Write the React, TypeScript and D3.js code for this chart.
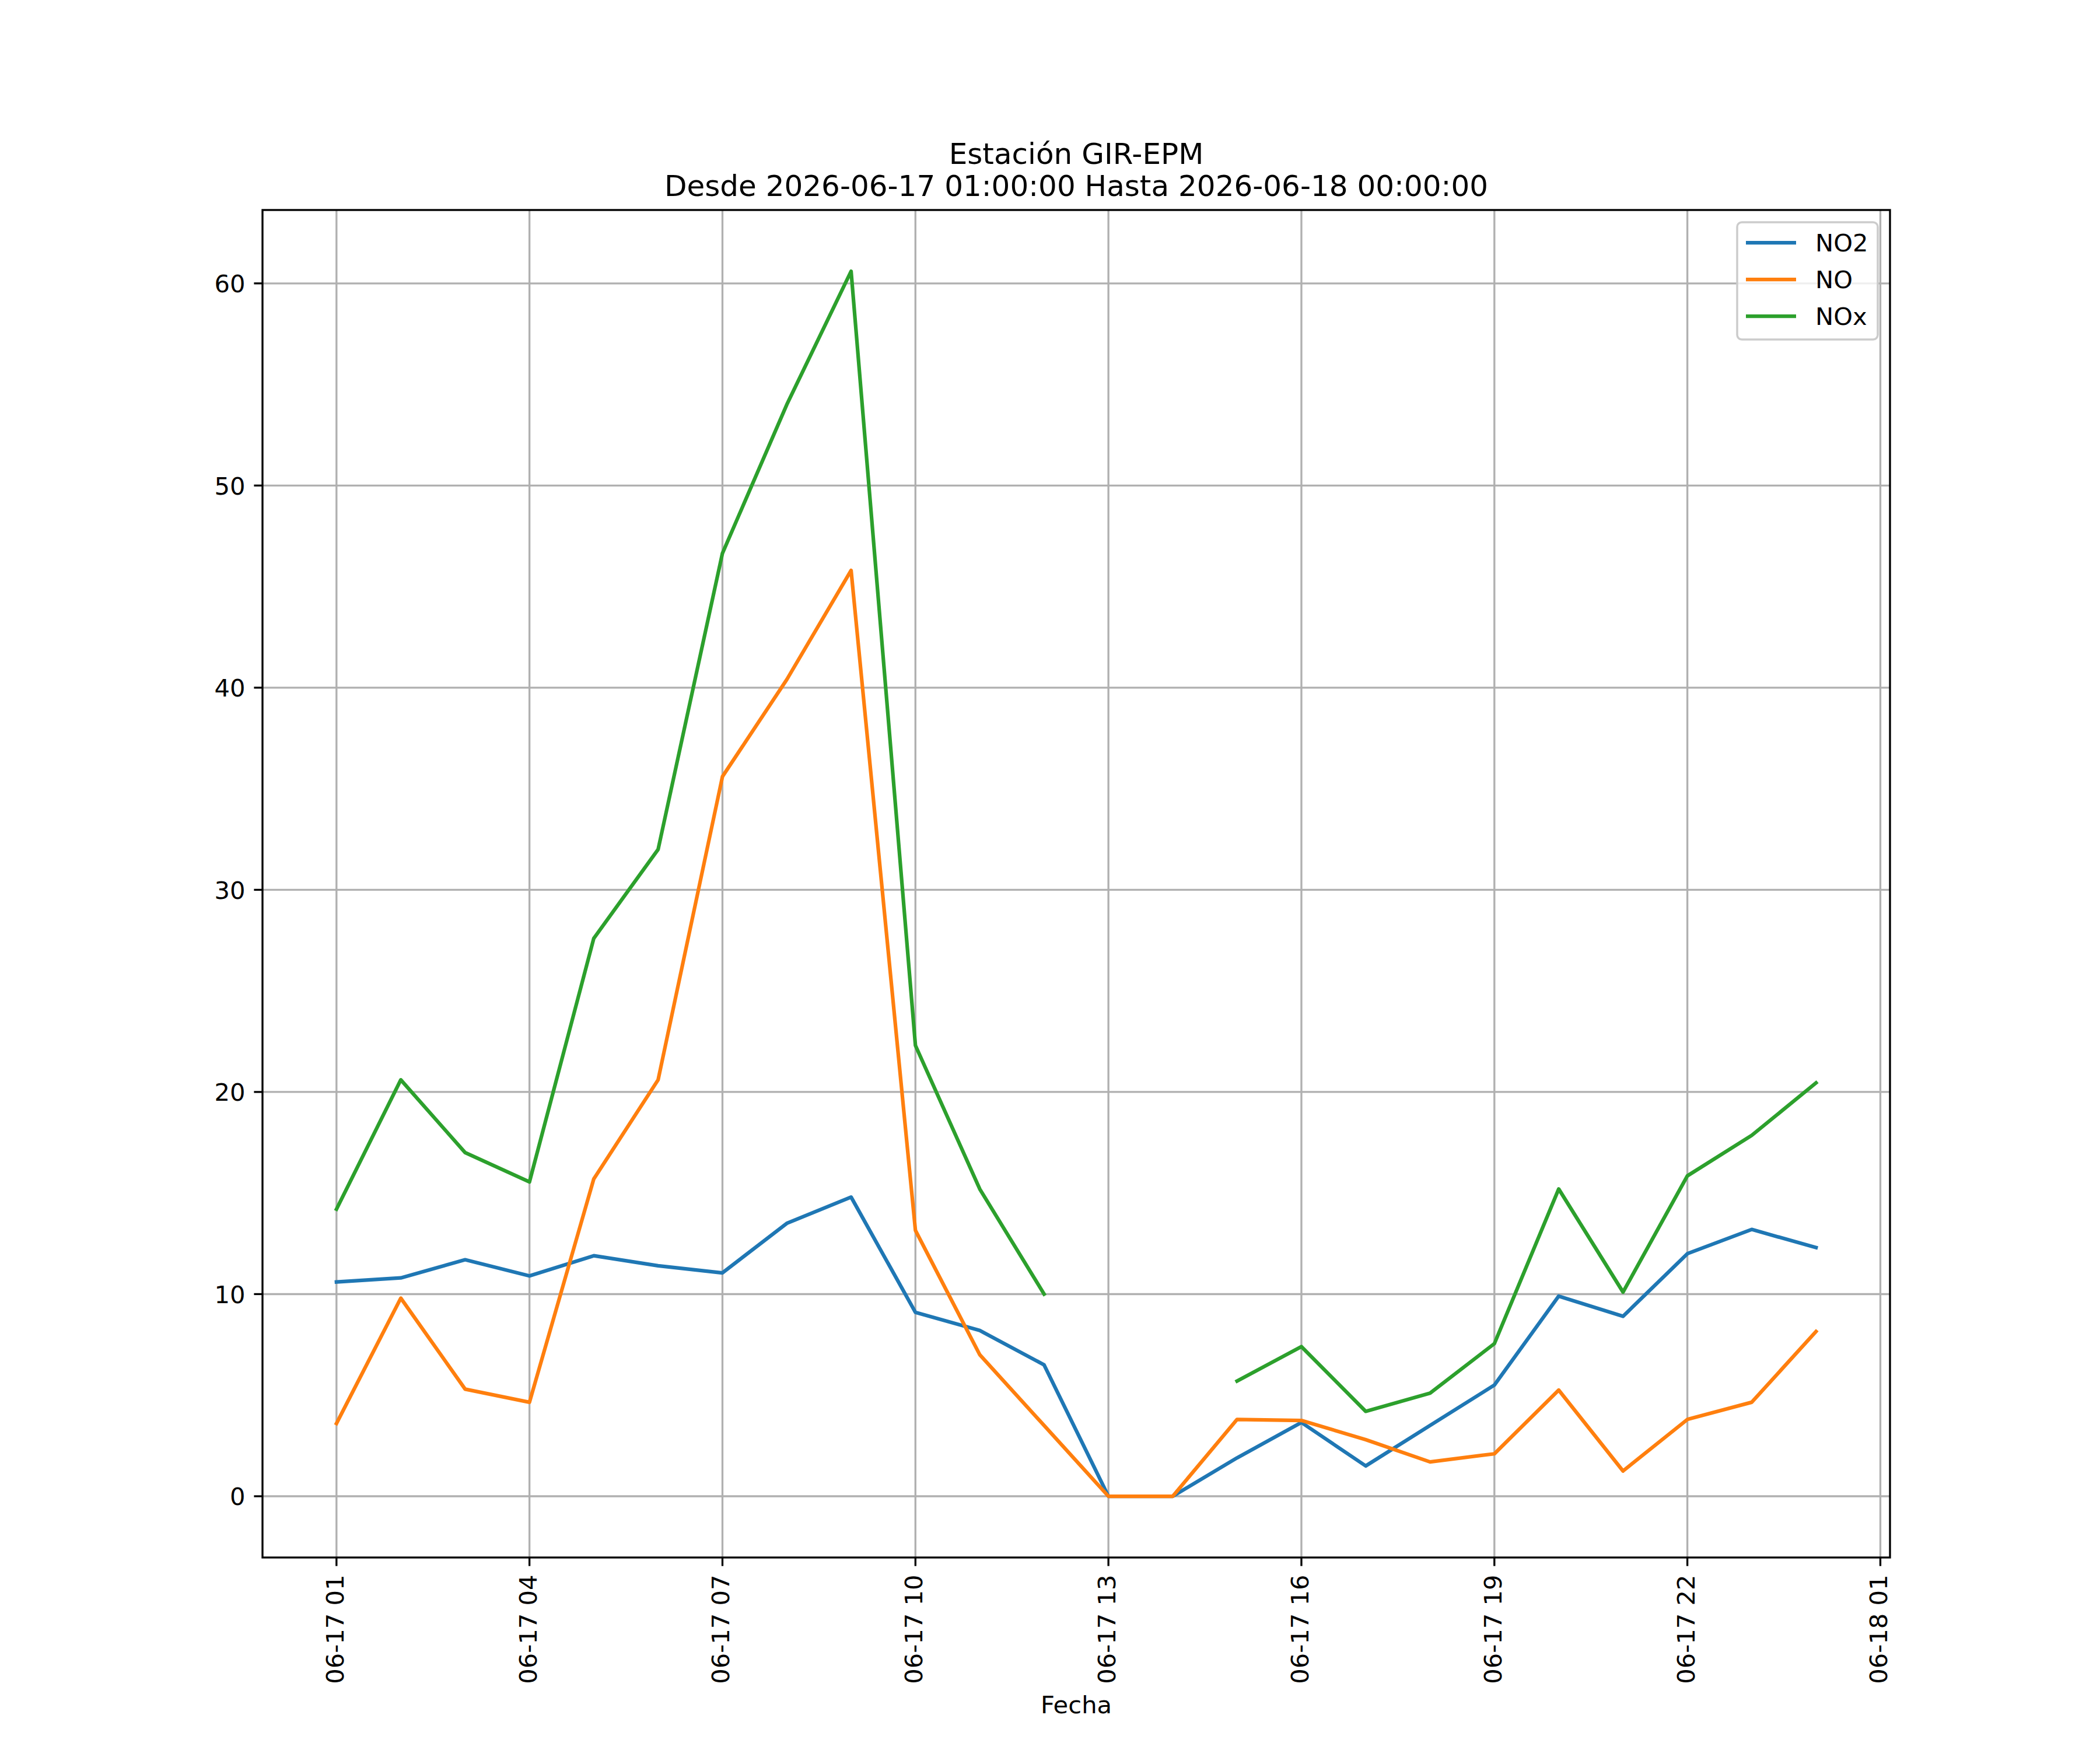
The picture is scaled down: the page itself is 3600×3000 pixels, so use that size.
import React, { useEffect, useRef } from 'react';
import * as d3 from 'd3';

// hourly timestamps of the station readings
const times = [
  '2026-06-17 01:00', '2026-06-17 02:00', '2026-06-17 03:00', '2026-06-17 04:00',
  '2026-06-17 05:00', '2026-06-17 06:00', '2026-06-17 07:00', '2026-06-17 08:00',
  '2026-06-17 09:00', '2026-06-17 10:00', '2026-06-17 11:00', '2026-06-17 12:00',
  '2026-06-17 13:00', '2026-06-17 14:00', '2026-06-17 15:00', '2026-06-17 16:00',
  '2026-06-17 17:00', '2026-06-17 18:00', '2026-06-17 19:00', '2026-06-17 20:00',
  '2026-06-17 21:00', '2026-06-17 22:00', '2026-06-17 23:00', '2026-06-18 00:00',
];

const no2 = [10.6, 10.8, 11.7, 10.9, 11.9, 11.4, 11.05, 13.5, 14.8, 9.1, 8.2, 6.5,
  0, 0, 1.9, 3.65, 1.5, 3.5, 5.5, 9.9, 8.9, 12.0, 13.2, 12.3];
const no = [3.6, 9.8, 5.3, 4.65, 15.7, 20.6, 35.6, 40.4, 45.8, 13.15, 7.0, 3.5,
  0, 0, 3.8, 3.75, 2.8, 1.7, 2.1, 5.25, 1.25, 3.8, 4.65, 8.15];
const nox: (number | null)[] = [14.2, 20.6, 17.0, 15.55, 27.6, 32.0, 46.65, 54.0, 60.6, 22.3, 15.2, 10.0,
  null, null, 5.7, 7.4, 4.2, 5.1, 7.55, 15.2, 10.1, 15.85, 17.85, 20.45];

const seriesNames = ['NO2', 'NO', 'NOx'];
const seriesColors = ['#1f77b4', '#ff7f0e', '#2ca02c'];
const yTicks = [0, 10, 20, 30, 40, 50, 60];
const xTickTimes = [
  '2026-06-17 01:00', '2026-06-17 04:00', '2026-06-17 07:00', '2026-06-17 10:00',
  '2026-06-17 13:00', '2026-06-17 16:00', '2026-06-17 19:00', '2026-06-17 22:00',
  '2026-06-18 01:00',
];

const titleLines = ['Estación GIR-EPM', 'Desde 2026-06-17 01:00:00 Hasta 2026-06-18 00:00:00'];
const xLabel = 'Fecha';

const App: React.FC = () => {
  const ref = useRef<SVGSVGElement>(null);

  useEffect(() => {
    const width = 3600, height = 3000;
    const left = 450, right = 3240, top = 360, bottom = 2670;
    const font = 'DejaVu Sans';
    const fs = 41.67;
    const lw = 3.33;

    const svg = d3.select(ref.current)
      .attr('width', width)
      .attr('height', height)
      .style('position', 'absolute')
      .style('left', '0px')
      .style('top', '0px')
      .style('background', '#fff');

    svg.selectAll('*').remove();

    const parse = d3.timeParse('%Y-%m-%d %H:%M');
    const dates = times.map(t => parse(t) as Date);
    const series = [no2, no, nox];

    // matplotlib style 5% margins
    const [t0, t1] = d3.extent(dates) as [Date, Date];
    const pad = (t1.getTime() - t0.getTime()) * 0.05;
    const x = d3.scaleTime()
      .domain([new Date(t0.getTime() - pad), new Date(t1.getTime() + pad)])
      .range([left, right]);

    const allVals = series.flat().filter(v => v != null) as number[];
    const yMin = d3.min(allVals) as number, yMax = d3.max(allVals) as number;
    const yPad = (yMax - yMin) * 0.05;
    const y = d3.scaleLinear()
      .domain([yMin - yPad, yMax + yPad])
      .range([bottom, top]);

    const xTicks = xTickTimes.map(t => parse(t) as Date);
    const fmt = d3.timeFormat('%m-%d %H');

    // grid
    const grid = svg.append('g');
    xTicks.forEach(d => {
      grid.append('line')
        .attr('x1', x(d)).attr('x2', x(d))
        .attr('y1', top).attr('y2', bottom)
        .attr('stroke', '#b0b0b0').attr('stroke-width', lw);
    });
    yTicks.forEach(v => {
      grid.append('line')
        .attr('x1', left).attr('x2', right)
        .attr('y1', y(v)).attr('y2', y(v))
        .attr('stroke', '#b0b0b0').attr('stroke-width', lw);
    });

    svg.append('clipPath').attr('id', 'plot-clip')
      .append('rect')
      .attr('x', left).attr('y', top)
      .attr('width', right - left).attr('height', bottom - top);

    // lines
    const plot = svg.append('g').attr('clip-path', 'url(#plot-clip)');
    series.forEach((vals, i) => {
      const line = d3.line<number>()
        .defined((_, j) => vals[j] != null)
        .x((_, j) => x(dates[j]))
        .y((_, j) => y(vals[j] as number));
      plot.append('path')
        .datum(vals as number[])
        .attr('d', line)
        .attr('fill', 'none')
        .attr('stroke', seriesColors[i])
        .attr('stroke-width', 6.25)
        .attr('stroke-linejoin', 'round')
        .attr('stroke-linecap', 'square');
    });

    // spines
    svg.append('rect')
      .attr('x', left).attr('y', top)
      .attr('width', right - left).attr('height', bottom - top)
      .attr('fill', 'none').attr('stroke', '#000').attr('stroke-width', lw);

    // x ticks and labels
    xTicks.forEach(d => {
      const tx = x(d);
      svg.append('line')
        .attr('x1', tx).attr('x2', tx)
        .attr('y1', bottom).attr('y2', bottom + 14.6)
        .attr('stroke', '#000').attr('stroke-width', lw);
      svg.append('text')
        .attr('transform', `translate(${tx + 12}, ${bottom + 29.5}) rotate(-90)`)
        .attr('text-anchor', 'end')
        .style('font-family', font)
        .style('font-size', `${fs}px`)
        .text(fmt(d));
    });

    // y ticks and labels
    yTicks.forEach(v => {
      const ty = y(v);
      svg.append('line')
        .attr('x1', left - 14.6).attr('x2', left)
        .attr('y1', ty).attr('y2', ty)
        .attr('stroke', '#000').attr('stroke-width', lw);
      svg.append('text')
        .attr('x', left - 29.5)
        .attr('y', ty + 15.2)
        .attr('text-anchor', 'end')
        .style('font-family', font)
        .style('font-size', `${fs}px`)
        .text(v);
    });

    // title
    titleLines.forEach((t, i) => {
      svg.append('text')
        .attr('x', (left + right) / 2)
        .attr('y', 281 + i * 55)
        .attr('text-anchor', 'middle')
        .style('font-family', font)
        .style('font-size', '50px')
        .text(t);
    });

    svg.append('text')
      .attr('x', (left + right) / 2)
      .attr('y', 2937)
      .attr('text-anchor', 'middle')
      .style('font-family', font)
      .style('font-size', `${fs}px`)
      .text(xLabel);

    // legend
    const legend = svg.append('g').attr('transform', 'translate(2978, 381)');
    legend.append('rect')
      .attr('width', 241).attr('height', 201)
      .attr('rx', 8).attr('ry', 8)
      .attr('fill', '#fff').attr('fill-opacity', 0.8)
      .attr('stroke', '#cccccc').attr('stroke-width', 3.5);
    seriesNames.forEach((name, i) => {
      const ly = 35 + i * 63;
      legend.append('line')
        .attr('x1', 15).attr('x2', 101)
        .attr('y1', ly).attr('y2', ly)
        .attr('stroke', seriesColors[i]).attr('stroke-width', 6.25);
      legend.append('text')
        .attr('x', 134)
        .attr('y', ly + 14.5)
        .style('font-family', font)
        .style('font-size', `${fs}px`)
        .text(name);
    });
  }, []);

  return <svg ref={ref}></svg>;
};

export default App;
